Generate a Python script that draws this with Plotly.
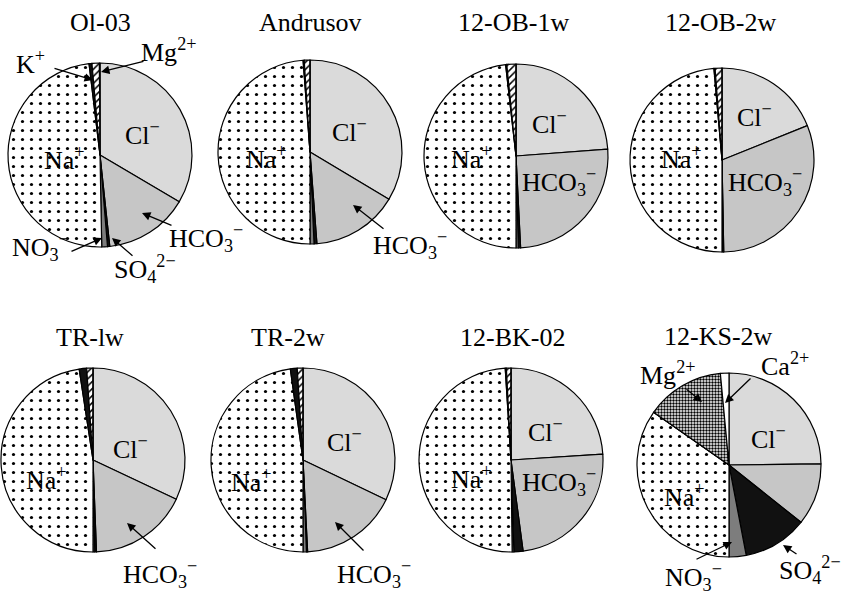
import plotly.graph_objects as go

W, H = 841, 596

samples = ["Ol-03", "Andrusov", "12-OB-1w", "12-OB-2w", "TR-lw", "TR-2w", "12-BK-02", "12-KS-2w"]
ions = ["Cl−", "HCO3−", "SO4 2−", "NO3−", "Na+", "K+", "Mg2+", "Ca2+"]

ol03     = [33.5, 14.8, 0.4, 1.0, 48.4, 0.5, 1.3, 0.1]
andrusov = [33.6, 15.2, 0.5, 0.7, 48.8, 0.2, 1.0, 0.0]
ob1w     = [23.8, 25.4, 0.4, 0.4, 48.2, 0.2, 1.6, 0.0]
ob2w     = [18.9, 30.8, 0.1, 0.2, 48.6, 0.2, 1.2, 0.0]
tr1w     = [32.0, 17.4, 0.3, 0.3, 47.6, 1.3, 1.1, 0.0]
tr2w     = [32.1, 17.1, 0.2, 0.6, 47.8, 1.2, 1.0, 0.0]
bk02     = [24.0, 23.9, 1.6, 0.3, 49.2, 0.2, 0.8, 0.0]
ks2w     = [24.8, 10.9, 11.3, 3.0, 34.7, 0.0, 13.8, 1.5]
values = [ol03, andrusov, ob1w, ob2w, tr1w, tr2w, bk02, ks2w]

# layout: pie centres (px) and radius
centres = [(100, 155), (310, 152), (516, 156), (722, 160),
           (93, 460), (303, 460), (511, 460), (729, 465)]
R = 92

colors = ["#dadada", "#c6c6c6", "#111111", "#7d7d7d", "#ffffff", "#111111", "#ffffff", "#ffffff"]
shapes_std = ["", "", "", "", ".", "", "/", ""]
shapes_ks = ["", "", "", "", ".", "", ".", ""]

fig = go.Figure()
fig.add_trace(go.Scatter(x=[], y=[], showlegend=False, hoverinfo="skip"))

for i, (name, vals) in enumerate(zip(samples, values)):
    cx, cy = centres[i]
    x0 = max(0, (cx - R) / W); x1 = min(1, (cx + R) / W)
    y0 = max(0, 1 - (cy + R) / H); y1 = min(1, 1 - (cy - R) / H)
    ks = name == "12-KS-2w"
    fig.add_trace(go.Pie(
        labels=ions, values=vals, sort=False, direction="clockwise", rotation=0,
        domain=dict(x=[x0, x1], y=[y0, y1]),
        textinfo="none", hoverinfo="label+value", showlegend=False,
        marker=dict(
            colors=colors,
            line=dict(color="black", width=1.2),
            pattern=dict(
                shape=shapes_ks if ks else shapes_std,
                fgcolor="black",
                bgcolor="white",
                size=[8, 8, 8, 8, 9, 8, 3 if ks else 5, 8],
                solidity=[0.2, 0.2, 0.2, 0.2, 0.1, 0.2, 0.5 if ks else 0.3, 0.2],
                fillmode="replace",
            ),
        ),
    ))

FONT = dict(family="Liberation Serif, Times New Roman, serif", size=26, color="black")

CL = "Cl<sup>−</sup>"
NA = "Na<sup>+</sup>"
HCO = "HCO<sub>3</sub><sup>−</sup>"
NO3 = "NO<sub>3</sub><sup>−</sup>"
SO4 = "SO<sub>4</sub><sup>2−</sup>"
KP = "K<sup>+</sup>"
MG = "Mg<sup>2+</sup>"
CA = "Ca<sup>2+</sup>"

# text labels: (text, x, y)
labels = [
    ("Ol-03", 100, 22), ("Andrusov", 310, 22), ("12-OB-1w", 513, 22), ("12-OB-2w", 720, 22),
    ("TR-lw", 90, 337), ("TR-2w", 288, 337), ("12-BK-02", 512, 337), ("12-KS-2w", 718, 336),
    (KP, 30, 62), (MG, 168, 50), (CL, 142, 133), (NA, 64, 158),
    (HCO, 206, 238), (NO3, 40, 247), (SO4, 145, 269),
    (CL, 349, 130), (NA, 266, 157), (HCO, 410, 245),
    (CL, 549, 122), (NA, 471, 157), (HCO, 559, 182),
    (CL, 754, 115), (NA, 681, 157), (HCO, 765, 182),
    (CL, 130, 447), (NA, 46, 478), (HCO, 160, 574),
    (CL, 344, 440), (NA, 251, 480), (HCO, 374, 574),
    (CL, 545, 430), (NA, 471, 477), (HCO, 559, 482),
    (CA, 785, 364), (MG, 667, 373), (CL, 768, 437), (NA, 684, 495),
    (NO3, 693, 577), (SO4, 810, 570),
]
for t, x, y in labels:
    fig.add_annotation(text=t, x=x, y=y, xref="x", yref="y", showarrow=False,
                       xanchor="center", yanchor="middle", font=FONT)

# arrows: (tail x, tail y, head x, head y)
arrows = [
    (53, 68, 93, 80), (145, 61, 101, 72), (173, 226, 142, 213),
    (70, 252, 102, 238), (134, 257, 112, 238),
    (385, 230, 353, 205),
    (157, 550, 127, 523), (365, 552, 335, 522),
    (752, 377, 725, 403), (685, 388, 702, 402),
    (695, 560, 732, 542), (798, 555, 783, 545),
]
for tx, ty, hx, hy in arrows:
    fig.add_annotation(text="", x=hx, y=hy, ax=tx, ay=ty, xref="x", yref="y",
                       axref="x", ayref="y", showarrow=True, arrowhead=2,
                       arrowsize=1.3, arrowwidth=1.3, arrowcolor="black")

fig.update_xaxes(range=[0, W], visible=False, fixedrange=True)
fig.update_yaxes(range=[H, 0], visible=False, fixedrange=True)
fig.update_layout(width=W, height=H, margin=dict(l=0, r=0, t=0, b=0),
                  paper_bgcolor="white", plot_bgcolor="white", showlegend=False)

fig.write_html("out.html", config={"displayModeBar": False},
               post_script="document.body.style.margin='0px';document.body.style.overflow='hidden';")
